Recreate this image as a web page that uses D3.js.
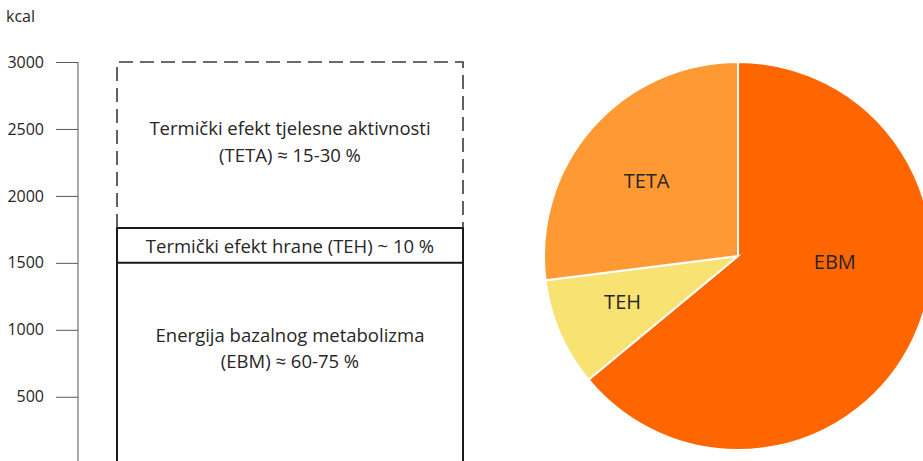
<!DOCTYPE html>
<html>
<head>
<meta charset="utf-8">
<script src="https://cdn.jsdelivr.net/npm/d3@7"></script>
<style>
  html, body { margin: 0; padding: 0; background: #fff; }
  svg { display: block; font-family: "Open Sans", sans-serif; }
</style>
</head>
<body>
<svg id="chart" width="923" height="461"></svg>
<script>
// Daily energy expenditure: stacked components (kcal) and their shares
const componentKeys = ["EBM", "TEH", "TETA"];
const componentTops = [1500, 1760, 3000];          // upper bound of each block, kcal
const componentLines = [
  ["Energija bazalnog metabolizma", "(EBM) ≈ 60-75 %"],
  ["Termički efekt hrane (TEH) ~ 10 %"],
  ["Termički efekt tjelesne aktivnosti", "(TETA) ≈ 15-30 %"]
];
const yTicks = [500, 1000, 1500, 2000, 2500, 3000];
const axisUnit = "kcal";

const pieLabels = ["EBM", "TEH", "TETA"];
const pieShares = [64, 9, 27];                       // percent
const pieColors = ["#FF6600", "#F8E272", "#FF9933"];

const svg = d3.select("#chart");

// ---- left: stacked energy blocks ----
const y = d3.scaleLinear().domain([0, 3000]).range([463.7, 62]);
const x0 = 117, x1 = 463;

const axis = svg.append("g")
  .attr("transform", "translate(78,0)")
  .call(d3.axisLeft(y).tickValues(yTicks).tickSize(22).tickPadding(12).tickFormat(d3.format("d")));
axis.select(".domain").attr("stroke", "#595959").attr("d", `M0,${y(3000)}V470`);
axis.selectAll(".tick line").attr("stroke", "#595959");
axis.selectAll(".tick text").attr("fill", "#262626").style("font-size", "16px").style("font-family", "'Open Sans', sans-serif");

svg.append("text").attr("x", 6).attr("y", 22).attr("fill", "#262626")
  .style("font-size", "16px").text(axisUnit);

const blocks = componentKeys.map((k, i) => ({
  key: k,
  lo: i === 0 ? 0 : componentTops[i - 1],
  hi: componentTops[i],
  lines: componentLines[i]
}));

// solid blocks (EBM, TEH)
blocks.slice(0, 2).forEach(b => {
  svg.append("path")
    .attr("d", `M${x0},${y(b.lo) + 10}V${y(b.hi)}H${x1}V${y(b.lo) + 10}`)
    .attr("fill", "none").attr("stroke", "#1a1a1a").attr("stroke-width", 2);
});
// dashed block (TETA)
const t = blocks[2];
svg.append("path")
  .attr("d", `M${x0},${y(t.lo)}V${y(t.hi)}H${x1}V${y(t.lo)}`)
  .attr("fill", "none").attr("stroke", "#3a3a3a").attr("stroke-width", 1.6)
  .attr("stroke-dasharray", "14,7");

// block captions
const captionY = { EBM: [342, 368], TEH: [253], TETA: [135, 162] };
blocks.forEach(b => {
  b.lines.forEach((ln, j) => {
    svg.append("text")
      .attr("x", (x0 + x1) / 2).attr("y", captionY[b.key][j])
      .attr("text-anchor", "middle").attr("fill", "#262626")
      .style("font-size", "18.5px").text(ln);
  });
});

// ---- right: pie of shares ----
const cx = 738, cy = 256, r = 194;
const pie = d3.pie().sort(null).value(d => d.v);
const arcs = pie(pieLabels.map((l, i) => ({ label: l, v: pieShares[i], color: pieColors[i] })));
const arc = d3.arc().innerRadius(0).outerRadius(r);
const g = svg.append("g").attr("transform", `translate(${cx},${cy})`);
g.selectAll("path").data(arcs).join("path")
  .attr("d", arc).attr("fill", d => d.data.color)
  .attr("stroke", "#fff").attr("stroke-width", 2);

// label placement: radius fraction and angular nudge per slice
const labelLayout = { EBM: { rf: 0.5, da: -21.5 }, TEH: { rf: 0.64, da: 1.8 }, TETA: { rf: 0.61, da: -2 } };
g.selectAll("text").data(arcs).join("text")
  .attr("transform", d => {
    const L = labelLayout[d.data.label];
    const a = (d.startAngle + d.endAngle) / 2 + L.da * Math.PI / 180;
    const rr = r * L.rf;
    return `translate(${rr * Math.sin(a)},${-rr * Math.cos(a)})`;
  })
  .attr("text-anchor", "middle").attr("dy", "0.35em")
  .attr("fill", "#262626").style("font-size", "20px")
  .text(d => d.data.label);
</script>
</body>
</html>
